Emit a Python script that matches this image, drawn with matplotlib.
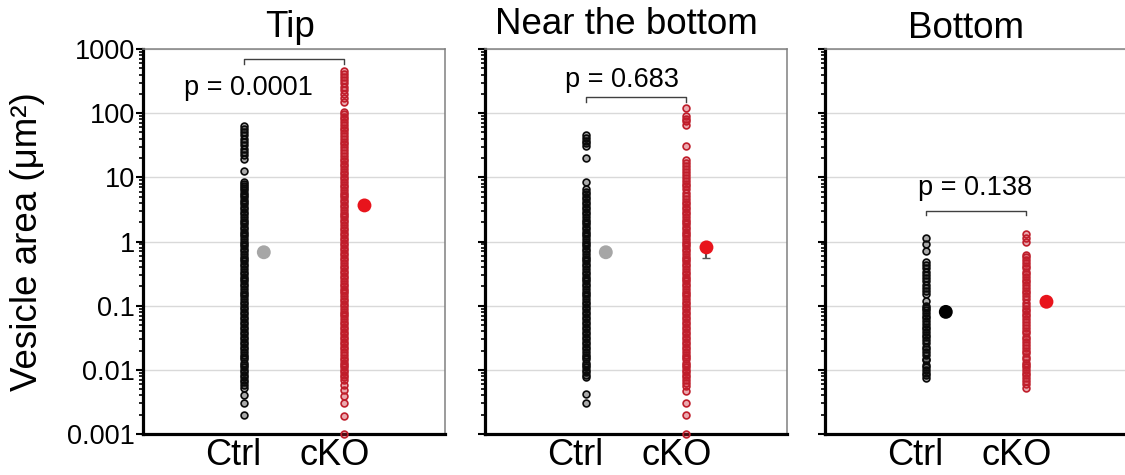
import numpy as np
import matplotlib
matplotlib.use("Agg")
import matplotlib.pyplot as plt
import matplotlib.transforms as mtransforms

plt.rcParams['font.family'] = ['Liberation Sans', 'DejaVu Sans']

# ---- data (vesicle areas, um^2) ----
groups = ["Ctrl", "cKO"]
panel_titles = ["Tip", "Near the bottom", "Bottom"]
p_labels = ["p = 0.0001", "p = 0.683", "p = 0.138"]
ytick_vals = [0.001, 0.01, 0.1, 1, 10, 100, 1000]
ytick_labels = ["0.001", "0.01", "0.1", "1", "10", "100", "1000"]

tip_ctrl = [62, 56, 50, 45, 40, 36, 32, 28, 25, 22, 19.5, 12.4,
            8.6, 8.0, 7.4, 6.8, 6.3, 5.8, 5.3, 4.9, 4.5, 4.1, 3.8, 3.5, 3.2, 2.9,
            2.7, 2.4, 2.2, 2.0, 1.85, 1.7, 1.55, 1.4, 1.3, 1.2, 1.1, 1.0, 0.92,
            0.84, 0.77, 0.7, 0.64, 0.58, 0.53, 0.49, 0.45, 0.41, 0.37, 0.34, 0.31,
            0.28, 0.26, 0.24, 0.22, 0.2, 0.18, 0.165, 0.15, 0.14, 0.125, 0.115,
            0.105, 0.096, 0.088, 0.08, 0.073, 0.067, 0.061, 0.056, 0.051, 0.047,
            0.043, 0.039, 0.036, 0.033, 0.03, 0.027, 0.025, 0.023, 0.021, 0.019,
            0.017, 0.016, 0.0145, 0.013, 0.012, 0.011, 0.01, 0.0092, 0.0084,
            0.0077, 0.007, 0.0064, 0.0058, 0.0052, 0.004, 0.003, 0.002]
tip_cko = [455, 410, 370, 330, 290, 260, 230, 200, 175, 150,
           105, 96, 88, 80, 72, 65, 59, 54, 49, 44, 40, 36, 33, 30, 27, 24, 21.5,
           19.5, 17.8, 16.2, 14.8, 13.5, 12.3, 11.2, 10.2, 9.3, 8.5, 7.7, 7.0,
           6.4, 5.8, 5.3, 4.9, 4.5, 4.1, 3.7, 3.4, 3.1, 2.8, 2.6, 2.4, 2.2, 2.0,
           1.8, 1.65, 1.5, 1.38, 1.26, 1.15, 1.05, 0.96, 0.88, 0.8, 0.73, 0.67,
           0.61, 0.56, 0.51, 0.46, 0.42, 0.39, 0.35, 0.32, 0.29, 0.27, 0.245,
           0.22, 0.2, 0.185, 0.17, 0.155, 0.14, 0.128, 0.117, 0.107, 0.098,
           0.089, 0.081, 0.074, 0.068, 0.062, 0.056, 0.051, 0.047, 0.043, 0.039,
           0.036, 0.033, 0.03, 0.027, 0.025, 0.023, 0.021, 0.019, 0.017, 0.0155,
           0.014, 0.013, 0.012, 0.011, 0.01, 0.0091, 0.0083, 0.0076, 0.0069,
           0.0058, 0.0048, 0.0039, 0.003, 0.0019, 0.001]
near_ctrl = [45, 41, 37, 34, 31, 20, 8.4,
             6.5, 6.0, 5.5, 5.0, 4.6, 4.2, 3.8, 3.5, 3.2, 2.9, 2.7, 2.4, 2.2,
             2.0, 1.85, 1.7, 1.55, 1.4, 1.3, 1.2, 1.1, 1.0, 0.92, 0.84, 0.77,
             0.7, 0.64, 0.58, 0.53, 0.49, 0.45, 0.41, 0.37, 0.34, 0.31, 0.28,
             0.26, 0.24, 0.22, 0.2, 0.18, 0.165, 0.15, 0.14, 0.125, 0.115, 0.105,
             0.096, 0.088, 0.08, 0.073, 0.067, 0.061, 0.056, 0.051, 0.047, 0.043,
             0.039, 0.036, 0.033, 0.03, 0.027, 0.025, 0.023, 0.021, 0.019, 0.017,
             0.016, 0.0145, 0.013, 0.012, 0.011, 0.01, 0.0092, 0.0084, 0.0077,
             0.0042, 0.003]
near_cko = [120, 90, 82, 75, 66, 31, 18.5, 16.5, 15, 13.5, 12, 10.8, 9.8, 8.8,
            8.0, 7.2, 6.5, 5.8, 5.2,
            4.6, 4.2, 3.8, 3.5, 3.2, 2.9, 2.7, 2.4, 2.2, 2.0, 1.85, 1.7, 1.55,
            1.4, 1.3, 1.2, 1.1, 1.0, 0.92, 0.84, 0.77, 0.7, 0.64, 0.58, 0.53,
            0.49, 0.45, 0.41, 0.37, 0.34, 0.31, 0.28, 0.26, 0.24, 0.22, 0.2, 0.18,
            0.165, 0.15, 0.14, 0.125, 0.115, 0.105, 0.096, 0.088, 0.08, 0.073,
            0.067, 0.061, 0.056, 0.051, 0.047, 0.043, 0.039, 0.036, 0.033, 0.03,
            0.027, 0.025, 0.023, 0.021, 0.019, 0.017, 0.016, 0.0145, 0.013, 0.012,
            0.011, 0.01, 0.0092, 0.0084, 0.0077, 0.007, 0.0063, 0.0055, 0.0047,
            0.003, 0.002, 0.001]
bottom_ctrl = [1.15, 0.9, 0.72, 0.48, 0.43, 0.38, 0.34, 0.3, 0.27, 0.24, 0.21,
               0.19, 0.17, 0.15, 0.12, 0.1, 0.092, 0.085, 0.078, 0.07, 0.064,
               0.058, 0.052, 0.047, 0.043, 0.039, 0.035, 0.032, 0.029, 0.026,
               0.023, 0.021, 0.019, 0.017, 0.015, 0.014, 0.012, 0.011, 0.01,
               0.009, 0.0082, 0.0075]
bottom_cko = [1.3, 1.15, 1.0, 0.62, 0.57, 0.52, 0.47, 0.42, 0.38, 0.34, 0.31,
              0.28, 0.25, 0.23, 0.21, 0.19, 0.17, 0.155, 0.14, 0.125, 0.11, 0.1,
              0.09, 0.082, 0.075, 0.068, 0.062, 0.056, 0.05, 0.045, 0.041, 0.037,
              0.033, 0.03, 0.027, 0.024, 0.022, 0.02, 0.018, 0.016, 0.015, 0.013,
              0.012, 0.011, 0.01, 0.009, 0.0082, 0.0074, 0.0067, 0.006, 0.0053]

ctrl_data = [tip_ctrl, near_ctrl, bottom_ctrl]
cko_data = [tip_cko, near_cko, bottom_cko]
ctrl_mean = [0.68, 0.68, 0.08]
cko_mean = [3.65, 0.81, 0.115]
ctrl_sem = [0.04, 0.06, 0.006]
cko_sem = [0.35, 0.25, 0.012]

# ---- layout / style ----
ctrl_mean_colors = ["#a6a6a6", "#a6a6a6", "#000000"]
cko_color = "#e8141c"
panel_left = [143, 485, 825]         # px
bracket_y = [(585, 702), (151, 180), (2.56, 2.95)]
p_pos = [(1.05, 194), (1.36, 255), (1.49, 5.4)]
title_pos = [(0.487, 1.031), (0.467, 1.039), (0.467, 1.029)]

W, H = 1125, 475
fig = plt.figure(figsize=(W / 100, H / 100), dpi=100)

for i in range(3):
    ax = fig.add_axes([panel_left[i] / W, 41 / H, 302 / W, 385 / H])
    ax.set_yscale('log')
    ax.set_ylim(0.001, 1000)
    ax.set_xlim(0, 3)

    ax.yaxis.grid(True, which='major', color='#d9d9d9', lw=1)
    ax.set_axisbelow(True)

    x_pos = [1, 2]
    ax.scatter(np.full(len(ctrl_data[i]), x_pos[0]), ctrl_data[i], s=24,
               facecolors=(0.05, 0.05, 0.05, 0.35), edgecolors='#0a0a0a',
               linewidths=1.2, clip_on=False, zorder=3)
    ax.scatter(np.full(len(cko_data[i]), x_pos[1]), cko_data[i], s=24,
               facecolors=(0.8, 0.12, 0.18, 0.38), edgecolors='#bf1e2b',
               linewidths=1.2, clip_on=False, zorder=3)

    # mean with lower SEM bar (upper half hidden by the dot)
    ax.errorbar(x_pos[0] + 0.2, ctrl_mean[i], yerr=[[ctrl_sem[i]], [0]],
                fmt='none', ecolor='#555555', elinewidth=1.5, capsize=3, zorder=4)
    ax.errorbar(x_pos[1] + 0.2, cko_mean[i], yerr=[[cko_sem[i]], [0]],
                fmt='none', ecolor='#555555', elinewidth=1.5, capsize=3, zorder=4)
    ax.scatter([x_pos[0] + 0.2], [ctrl_mean[i]], s=100, color=ctrl_mean_colors[i],
               edgecolors='none', zorder=5)
    ax.scatter([x_pos[1] + 0.2], [cko_mean[i]], s=100, color=cko_color,
               edgecolors='none', zorder=5)

    # significance bracket
    lo, hi = bracket_y[i]
    ax.plot([1, 1, 2, 2], [lo, hi, hi, lo], color='#404040', lw=1)
    ax.text(p_pos[i][0], p_pos[i][1], p_labels[i], ha='center', va='baseline',
            fontsize=19.5)

    ax.set_title(panel_titles[i], fontsize=26.5, x=title_pos[i][0],
                 y=title_pos[i][1], pad=0)

    # spines
    for side in ['left', 'bottom']:
        ax.spines[side].set_linewidth(2.3)
        ax.spines[side].set_color('black')
    for side in ['top', 'right']:
        ax.spines[side].set_linewidth(1.1)
        ax.spines[side].set_color('#808080')

    ax.set_xticks(x_pos)
    ax.set_xticklabels(groups, fontsize=26)
    ax.tick_params(axis='x', length=0, pad=3)
    offset = mtransforms.ScaledTranslation(-10 / 100, 0, fig.dpi_scale_trans)
    for lab in ax.get_xticklabels():
        lab.set_transform(lab.get_transform() + offset)

    ax.set_yticks(ytick_vals)
    ax.yaxis.set_minor_locator(matplotlib.ticker.LogLocator(base=10, subs=np.arange(2, 10)))
    ax.yaxis.set_minor_formatter(matplotlib.ticker.NullFormatter())
    ax.tick_params(axis='y', which='major', direction='out', length=5, width=1.5)
    ax.tick_params(axis='y', which='minor', direction='out', length=3, width=1.2)
    if i == 0:
        ax.set_yticklabels(ytick_labels, fontsize=19.5)
        ax.tick_params(axis='y', which='major', pad=1)
        ax.set_ylabel("Vesicle area (μm²)", fontsize=26.5)
        ax.yaxis.set_label_coords(-0.325, 0.5)
    else:
        ax.set_yticklabels([])

fig.savefig("out.png", dpi=100)
